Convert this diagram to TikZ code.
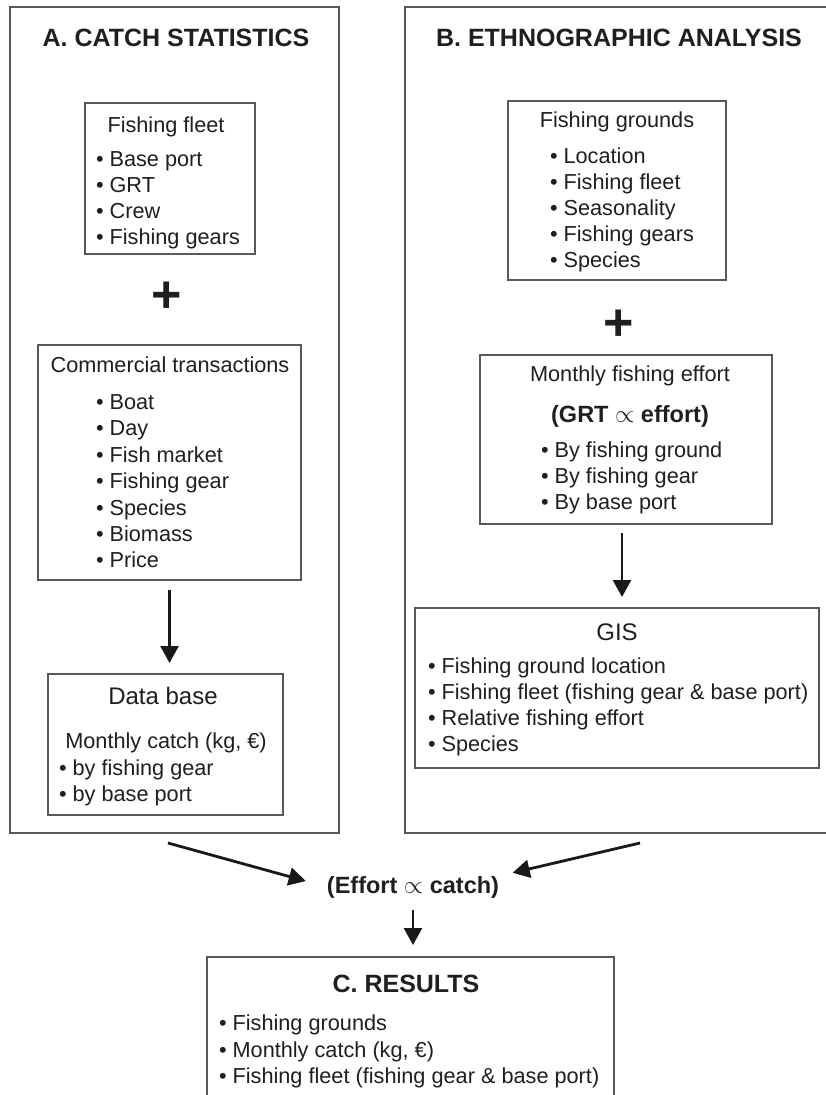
\documentclass[tikz,border=0pt]{standalone}
\usepackage{fontspec}
\setmainfont{Liberation Sans}
\usetikzlibrary{arrows.meta}
\begin{document}
\begin{tikzpicture}[x=1pt,y=-1pt,
  every node/.style={inner sep=0pt, outer sep=0pt, text=black!88},
  box/.style={draw=black!65, line width=1.3pt, rectangle, minimum width=#1},
  body/.style={font=\fontsize{21.7}{26}\selectfont},
  head/.style={font=\fontsize{24}{28}\selectfont},
  ttl/.style={font=\fontsize{25}{30}\selectfont\bfseries},
  bprop/.style={font=\fontsize{23.5}{28}\selectfont\bfseries},
  plussign/.style={font=\fontsize{52}{56}\selectfont\bfseries},
  arr/.style={draw=black!90, line width=2.6pt, -{Triangle[length=17pt,width=18pt]}}
]
\useasboundingbox (0,0) rectangle (825,1095);
\fill[white] (0,0) rectangle (825,1095);

% outer boxes
\node[box=329pt, minimum height=826pt, anchor=north west] (boxA) at (10,7) {};
\node[box=425pt, minimum height=826pt, anchor=north west] (boxB) at (405,7) {};

% titles
\node[ttl, anchor=base] (titleA) at (176,46) {A. CATCH STATISTICS};
\node[ttl, anchor=base] (titleB) at (619,46) {B. ETHNOGRAPHIC ANALYSIS};

% ---------- A column ----------
\node[box=170pt, minimum height=151pt, anchor=north west] (fleet) at (85,103) {};
\node[body, anchor=base] (fleetT) at (166,132) {Fishing fleet};
\node[body, anchor=base west] (f1) at (96,166) {• Base port};
\node[body, anchor=base west] (f2) at (96,192) {• GRT};
\node[body, anchor=base west] (f3) at (96,218) {• Crew};
\node[body, anchor=base west] (f4) at (96,244) {• Fishing gears};

\node[plussign] (plusA) at (167,297) {+};

\node[box=263pt, minimum height=235pt, anchor=north west] (ctrans) at (38,345) {};
\node[body, anchor=base] (ctransT) at (170,372) {Commercial transactions};
\node[body, anchor=base west] (c1) at (96,409) {• Boat};
\node[body, anchor=base west] (c2) at (96,435) {• Day};
\node[body, anchor=base west] (c3) at (96,462) {• Fish market};
\node[body, anchor=base west] (c4) at (96,488) {• Fishing gear};
\node[body, anchor=base west] (c5) at (96,515) {• Species};
\node[body, anchor=base west] (c6) at (96,541) {• Biomass};
\node[body, anchor=base west] (c7) at (96,567) {• Price};

\node[box=235pt, minimum height=141pt, anchor=north west] (dbase) at (48,674) {};
\node[head, anchor=base] (dbaseT) at (163,704) {Data base};
\node[body, anchor=base] (dbaseS) at (166,748) {Monthly catch (kg, €)};
\node[body, anchor=base west] (d1) at (59,775) {• by fishing gear};
\node[body, anchor=base west] (d2) at (59,801) {• by base port};

\draw[arr, shorten <=10pt, shorten >=11pt] (ctrans.south) -- (ctrans.south |- dbase.north);

% ---------- B column ----------
\node[box=218pt, minimum height=179pt, anchor=north west] (grounds) at (508,101) {};
\node[body, anchor=base] (groundsT) at (617,127) {Fishing grounds};
\node[body, anchor=base west] (g1) at (550,163) {• Location};
\node[body, anchor=base west] (g2) at (550,189) {• Fishing fleet};
\node[body, anchor=base west] (g3) at (550,215) {• Seasonality};
\node[body, anchor=base west] (g4) at (550,241) {• Fishing gears};
\node[body, anchor=base west] (g5) at (550,267) {• Species};

\node[plussign] (plusB) at (619,325) {+};

\node[box=292pt, minimum height=169pt, anchor=north west] (mfe) at (480,355) {};
\node[body, anchor=base] (mfeT) at (630,381) {Monthly fishing effort};
\node[bprop, anchor=base] (mfeP) at (630,422) {(GRT {\mdseries$\propto$} effort)};
\node[body, anchor=base west] (m1) at (541,457) {• By fishing ground};
\node[body, anchor=base west] (m2) at (541,483) {• By fishing gear};
\node[body, anchor=base west] (m3) at (541,509) {• By base port};

\node[box=404pt, minimum height=160pt, anchor=north west] (gis) at (415,608) {};
\node[head, anchor=base] (gisT) at (617,640) {GIS};
\node[body, anchor=base west] (s1) at (428,673) {• Fishing ground location};
\node[body, anchor=base west] (s2) at (428,699) {• Fishing fleet (fishing gear \& base port)};
\node[body, anchor=base west] (s3) at (428,725) {• Relative fishing effort};
\node[body, anchor=base west] (s4) at (428,751) {• Species};

\draw[arr, shorten <=9pt, shorten >=11pt] ([xshift=-4pt]mfe.south) -- ([xshift=-4pt]mfe.south |- gis.north);

% ---------- bottom ----------
\node[bprop, anchor=base] (effort) at (413,893) {(Effort {\mdseries$\propto$} catch)};
\coordinate (la) at (168,843);
\coordinate (ra) at (640,843);
\draw[arr, line width=2.8pt, shorten >=22pt] (la) -- (effort.west);
\draw[arr, line width=2.8pt, shorten >=14pt] (ra) -- (effort.north east);

\node[box=407pt, minimum height=160pt, anchor=north west] (results) at (207,957) {};
\node[ttl, anchor=base] (resultsT) at (406,992) {C. RESULTS};
\node[body, anchor=base west] (r1) at (219,1030) {• Fishing grounds};
\node[body, anchor=base west] (r2) at (219,1057) {• Monthly catch (kg, €)};
\node[body, anchor=base west] (r3) at (219,1083) {• Fishing fleet (fishing gear \& base port)};

\draw[arr, shorten <=12pt, shorten >=12pt] (effort.south) -- (effort.south |- results.north);
\end{tikzpicture}
\end{document}
